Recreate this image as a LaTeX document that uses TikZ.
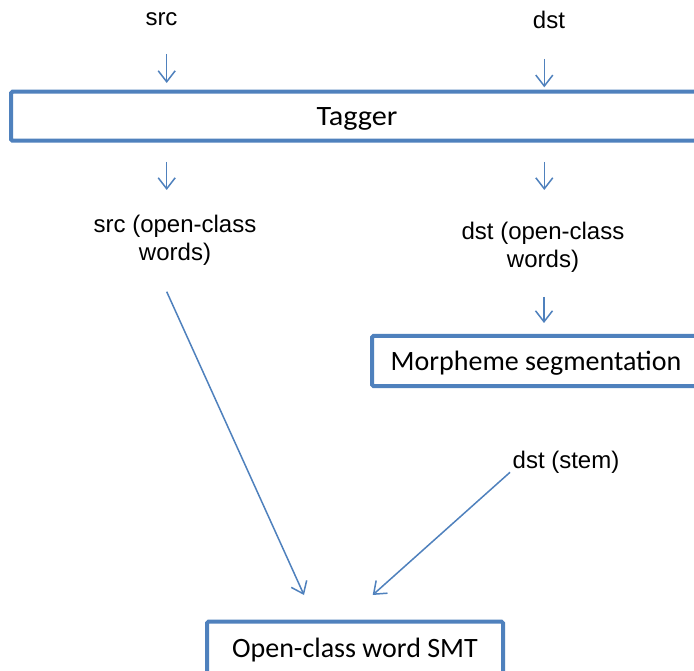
\documentclass[tikz,border=0pt]{standalone}
\usepackage{fontspec}
\setmainfont{Liberation Sans}
\newfontfamily\boxfont{Carlito}
\usetikzlibrary{arrows.meta}
\definecolor{officeblue}{HTML}{4F81BD}
\tikzset{
  procbox/.style={draw=officeblue, line width=4pt, rounded corners=1.5pt,
    fill=white, inner sep=0pt, text height=19pt, text depth=0pt,
    font=\boxfont\fontsize{28}{32}\selectfont},
  lbl/.style={inner sep=0pt, font=\fontsize{24}{28}\selectfont, align=center},
  flow/.style={draw=officeblue, line width=1.5pt,
    -{Straight Barb[length=11pt, width=17pt, line width=1.5pt]}},
}
\begin{document}
\begin{tikzpicture}[x=1pt, y=-1pt]
\clip (0,0) rectangle (694,671);
\fill[white] (0,0) rectangle (694,671);

% boxes
\node[procbox, minimum width=692pt, minimum height=49pt] (tagger) at (357,116.2) {\scalebox{1.08}[1]{Tagger}};
\node[procbox, minimum width=328pt, minimum height=50pt] (morph) at (536,361) {Morpheme segmentation};
\node[procbox, minimum width=296pt, minimum height=52.7pt] (smt) at (355,648) {Open-class word SMT};

% labels
\node[lbl, anchor=base] (src) at (161.5,26) {src};
\node[lbl, anchor=base] (dst) at (549,28.3) {dst};
\node[lbl] (srcw) at (175,240) {src (open-class\\words)};
\node[lbl] (dstw) at (543,247) {dst (open-class\\words)};
\node[lbl, anchor=base] (stem) at (566,468) {dst (stem)};

% arrow end points
\coordinate (s1a) at (166.7,54);   \coordinate (s1b) at (166.7,83);
\coordinate (d1a) at (544.3,59);   \coordinate (d1b) at (544.3,87.3);
\coordinate (s2a) at (166.7,162);  \coordinate (s2b) at (166.7,190);
\coordinate (d2a) at (544.3,162);  \coordinate (d2b) at (544.3,190);
\coordinate (d3a) at (544,297);    \coordinate (d3b) at (544,323);
\coordinate (s3a) at (166.7,291.7);\coordinate (s3b) at (304,595);
\coordinate (t1a) at (510,472.3);  \coordinate (t1b) at (372.7,595);

% connectors
\draw[flow] (s1a) -- (s1b);
\draw[flow] (d1a) -- (d1b);
\draw[flow] (s2a) -- (s2b);
\draw[flow] (d2a) -- (d2b);
\draw[flow] (d3a) -- (d3b);
\draw[flow] (s3a) -- (s3b);
\draw[flow] (t1a) -- (t1b);
\end{tikzpicture}
\end{document}
